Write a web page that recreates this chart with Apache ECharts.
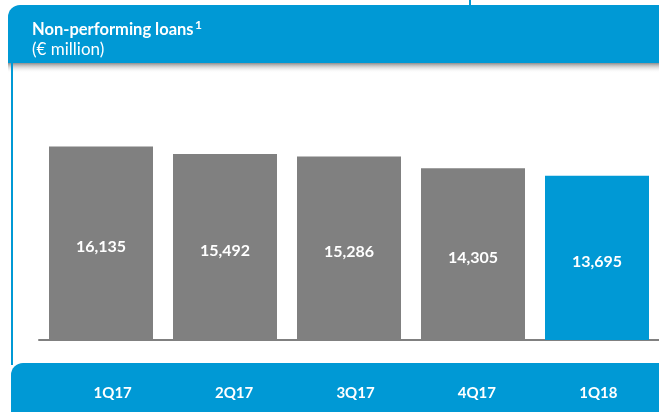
<!DOCTYPE html>
<html>
<head>
<meta charset="utf-8">
<script src="https://cdn.jsdelivr.net/npm/echarts@6/dist/echarts.min.js"></script>
<style>
html,body{margin:0;padding:0;background:#fff;}
#c{width:659px;height:412px;}
</style>
</head>
<body>
<div id="c"></div>
<script>
const categories = ['1Q17', '2Q17', '3Q17', '4Q17', '1Q18'];
const values = [16135, 15492, 15286, 14305, 13695];
const barColors = ['#808080', '#808080', '#808080', '#808080', '#0099D5'];
const titleLine1 = 'Non-performing loans';
const titleSup = '1';
const titleLine2 = '(\u20AC million)';

const BLUE = '#0099D5';
const FONT = 'Lato, "Open Sans", sans-serif';

const chart = echarts.init(document.getElementById('c'), null, {renderer: 'canvas'});
chart.setOption({
  animation: false,
  backgroundColor: '#fff',
  grid: [
    {left: 39, right: -7, top: 100, bottom: 72, containLabel: false},
    {left: 52, right: -4, top: 100, bottom: 72, containLabel: false}
  ],
  xAxis: [{
    type: 'category',
    gridIndex: 0,
    data: categories,
    axisLine: {show: true, lineStyle: {color: '#808080', width: 2}},
    axisTick: {show: false},
    axisLabel: {show: false}
  }, {
    type: 'category',
    gridIndex: 1,
    data: categories,
    z: 10,
    axisLine: {show: false},
    axisTick: {show: false},
    axisLabel: {color: '#fff', fontWeight: 'bold', fontSize: 15, fontFamily: FONT, margin: 46}
  }],
  yAxis: [
    {type: 'value', gridIndex: 0, min: 0, max: 20000, show: false, splitLine: {show: false}},
    {type: 'value', gridIndex: 1, min: 0, max: 20000, show: false, splitLine: {show: false}}
  ],
  graphic: [
    {type: 'rect', z: -10, shape: {x: 8, y: 5, width: 700, height: 58, r: [12, 0, 0, 0]}, style: {fill: BLUE}},
    {type: 'rect', z: -10, shape: {x: 8, y: 63, width: 700, height: 10},
      style: {fill: new echarts.graphic.LinearGradient(0, 0, 0, 1, [
        {offset: 0, color: 'rgba(130,130,130,0.9)'},
        {offset: 1, color: 'rgba(255,255,255,0)'}])}},
    {type: 'rect', z: -10, shape: {x: 469, y: 0, width: 2, height: 5}, style: {fill: BLUE}},
    {type: 'rect', z: -9, shape: {x: 11, y: 63, width: 2, height: 302}, style: {fill: BLUE}},
    {type: 'rect', z: -9, shape: {x: 11, y: 363, width: 700, height: 60, r: [12, 0, 0, 0]}, style: {fill: BLUE}},
    {type: 'text', z: 5, left: 32, top: 21, style: {text: titleLine1, fill: '#fff', font: 'bold 16.5px ' + FONT}},
    {type: 'text', z: 5, left: 195, top: 19, style: {text: titleSup, fill: '#fff', font: 'bold 12px ' + FONT}},
    {type: 'text', z: 5, left: 32, top: 41, style: {text: titleLine2, fill: '#fff', font: '17px ' + FONT}}
  ],
  series: [{
    type: 'bar',
    xAxisIndex: 0,
    yAxisIndex: 0,
    data: values.map((v, i) => ({value: v, itemStyle: {color: barColors[i]}})),
    barWidth: 104,
    label: {
      show: true, position: 'inside', offset: [0, 4],
      color: '#fff', fontWeight: 'bold', fontSize: 16, fontFamily: FONT,
      formatter: p => p.value.toLocaleString('en-US')
    }
  }]
});
</script>
</body>
</html>
